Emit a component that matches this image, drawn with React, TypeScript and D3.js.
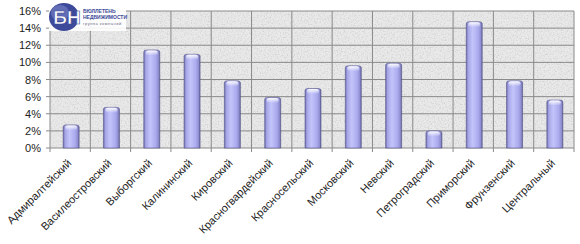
import React from "react";
import * as d3 from "d3";

const categories = [
  "Адмиралтейский", "Василеостровский", "Выборгский", "Калининский", "Кировский",
  "Красногвардейский", "Красносельский", "Московский", "Невский", "Петроградский",
  "Приморский", "Фрунзенский", "Центральный",
];
const values = [2.7, 4.75, 11.45, 10.95, 7.85, 5.9, 6.95, 9.6, 9.9, 2.0, 14.75, 7.85, 5.6];
const yTicks = [0, 2, 4, 6, 8, 10, 12, 14, 16];

const W = 580, H = 244;
const left = 50, right = 574, top = 11, bottom = 148;

export default function App() {
  const x = d3.scaleBand<string>().domain(categories).range([left, right]).paddingInner(0).paddingOuter(0);
  const y = d3.scaleLinear().domain([0, 16]).range([bottom, top]);
  const bw = 16;
  const font = "'Liberation Sans', Arial, sans-serif";
  return (
    <div style={{ position: "absolute", left: 0, top: 0 }}>
      <svg width={W} height={H} style={{ display: "block", background: "#fff" }}>
        <defs>
          <filter id="noise" x="0" y="0" width="100%" height="100%">
            <feTurbulence type="fractalNoise" baseFrequency="0.7" numOctaves="2" seed="3" result="t" />
            <feColorMatrix type="matrix" values="0 0 0 0 0.5  0 0 0 0 0.5  0 0 0 0 0.5  0 0 0 2.2 -1.0" />
          </filter>
          <linearGradient id="barg" x1="0" x2="1" y1="0" y2="0">
            <stop offset="0" stopColor="#6c6cae" />
            <stop offset="0.12" stopColor="#a5a5e6" />
            <stop offset="0.4" stopColor="#c4c4fb" />
            <stop offset="0.75" stopColor="#aaaaee" />
            <stop offset="0.92" stopColor="#8c8cce" />
            <stop offset="1" stopColor="#5c5c96" />
          </linearGradient>
          <linearGradient id="capg" x1="0" x2="0" y1="0" y2="1">
            <stop offset="0" stopColor="#ffffff" stopOpacity="0.95" />
            <stop offset="1" stopColor="#ffffff" stopOpacity="0" />
          </linearGradient>
        </defs>
        <rect x={left} y={top} width={right - left} height={bottom - top} fill="#e9e9e9" />
        <rect x={left} y={top} width={right - left} height={bottom - top} filter="url(#noise)" opacity={0.6} />
        {yTicks.map((t) => (
          <g key={t}>
            <line x1={left - 4} x2={right} y1={y(t)} y2={y(t)} stroke="#8a8a8a" strokeWidth={1} />
            <text x={41} y={y(t) + 4} textAnchor="end" fontFamily={font} fontSize={11} fill="#222">
              {t}%
            </text>
          </g>
        ))}
        {categories.map((c) => (
          <line key={c} x1={x(c)!} x2={x(c)!} y1={top} y2={bottom + 4} stroke="#8a8a8a" strokeWidth={1} />
        ))}
        <line x1={right} x2={right} y1={top} y2={bottom + 4} stroke="#8a8a8a" strokeWidth={1} />
        {categories.map((c, i) => {
          const cx = x(c)! + x.bandwidth() / 2 + 1;
          const y0 = y(values[i]);
          const bx = cx - bw / 2;
          return (
            <g key={c}>
              <path
                d={`M${bx},${bottom} L${bx},${y0 + 2} Q${bx},${y0} ${bx + 3},${y0} L${bx + bw - 3},${y0} Q${bx + bw},${y0} ${bx + bw},${y0 + 2} L${bx + bw},${bottom} Z`}
                fill="url(#barg)"
                stroke="#55558a"
                strokeWidth={0.6}
              />
              <rect x={bx + 2} y={y0 + 0.5} width={bw - 4} height={5} rx={2.5} fill="url(#capg)" />
            </g>
          );
        })}
        {categories.map((c) => {
          const cx = x(c)! + x.bandwidth() / 2 + 2;
          return (
            <text
              key={c}
              transform={`translate(${cx},${bottom + 16}) rotate(-45)`}
              textAnchor="end"
              fontFamily={font}
              fontSize={11}
              fill="#222"
            >
              {c}
            </text>
          );
        })}
        <g>
          <rect x={49} y={2} width={77} height={29} fill="#ffffff" opacity={0.9} />
          <ellipse cx={64} cy={17} rx={15} ry={14} fill="#3d4a9a" />
          <ellipse cx={60} cy={13} rx={9} ry={8} fill="#7a86c8" opacity={0.6} />
          <text x={67} y={24} textAnchor="middle" fontFamily={font} fontWeight="bold" fontSize={19} fill="#ffffff" stroke="#3d4a9a" strokeWidth={0.6}>
            БН
          </text>
          <text x={83} y={13} fontFamily={font} fontWeight="bold" fontSize={5} fill="#3d4a9a">
            БЮЛЛЕТЕНЬ
          </text>
          <text x={83} y={19} fontFamily={font} fontWeight="bold" fontSize={5} fill="#3d4a9a">
            НЕДВИЖИМОСТИ
          </text>
          <text x={83} y={25} fontFamily={font} fontSize={4} fill="#6a6a8a" letterSpacing={0.5}>
            группа компаний
          </text>
        </g>
      </svg>
    </div>
  );
}
